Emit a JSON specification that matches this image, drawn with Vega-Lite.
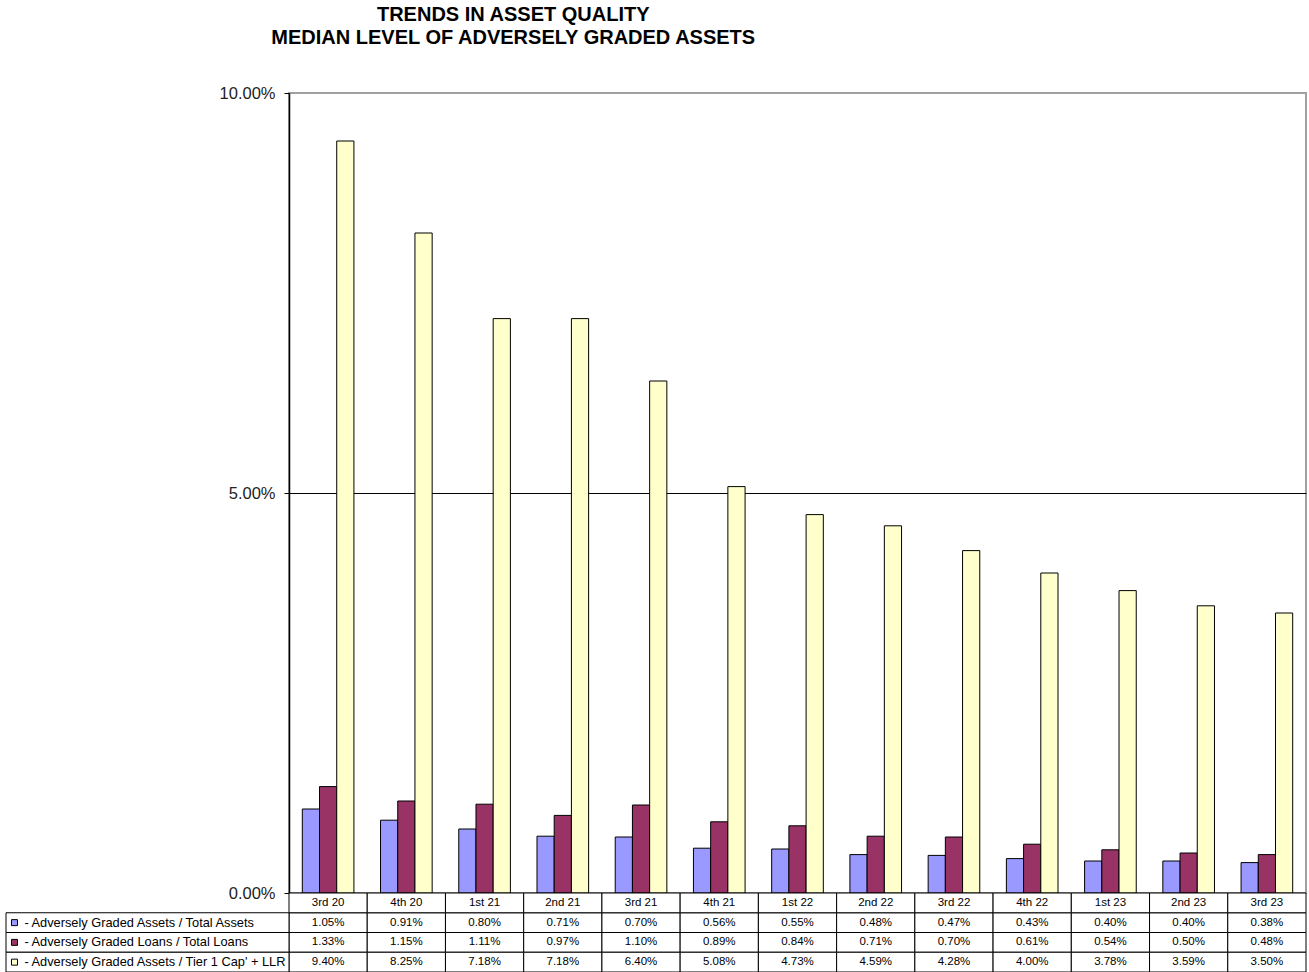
{
  "$schema": "https://vega.github.io/schema/vega-lite/v6.json",
  "padding": {"left": 5, "right": 3, "top": 5, "bottom": 0},
  "bounds": "flush",
  "spacing": 0,
  "config": {"font": "Liberation Sans", "view": {"stroke": null}},
  "title": {
    "text": ["TRENDS IN ASSET QUALITY", "MEDIAN LEVEL OF ADVERSELY GRADED ASSETS"],
    "fontSize": 20, "fontWeight": "bold", "color": "black", "anchor": "middle",
    "lineHeight": 23, "offset": 36, "dx": -143
  },
  "datasets": {
    "d": [
      {"quarter": "3rd 20", "series": "Adversely Graded Assets / Total Assets", "value": 0.0105},
      {"quarter": "3rd 20", "series": "Adversely Graded Loans / Total Loans", "value": 0.0133},
      {"quarter": "3rd 20", "series": "Adversely Graded Assets / Tier 1 Cap' + LLR", "value": 0.0940},
      {"quarter": "4th 20", "series": "Adversely Graded Assets / Total Assets", "value": 0.0091},
      {"quarter": "4th 20", "series": "Adversely Graded Loans / Total Loans", "value": 0.0115},
      {"quarter": "4th 20", "series": "Adversely Graded Assets / Tier 1 Cap' + LLR", "value": 0.0825},
      {"quarter": "1st 21", "series": "Adversely Graded Assets / Total Assets", "value": 0.0080},
      {"quarter": "1st 21", "series": "Adversely Graded Loans / Total Loans", "value": 0.0111},
      {"quarter": "1st 21", "series": "Adversely Graded Assets / Tier 1 Cap' + LLR", "value": 0.0718},
      {"quarter": "2nd 21", "series": "Adversely Graded Assets / Total Assets", "value": 0.0071},
      {"quarter": "2nd 21", "series": "Adversely Graded Loans / Total Loans", "value": 0.0097},
      {"quarter": "2nd 21", "series": "Adversely Graded Assets / Tier 1 Cap' + LLR", "value": 0.0718},
      {"quarter": "3rd 21", "series": "Adversely Graded Assets / Total Assets", "value": 0.0070},
      {"quarter": "3rd 21", "series": "Adversely Graded Loans / Total Loans", "value": 0.0110},
      {"quarter": "3rd 21", "series": "Adversely Graded Assets / Tier 1 Cap' + LLR", "value": 0.0640},
      {"quarter": "4th 21", "series": "Adversely Graded Assets / Total Assets", "value": 0.0056},
      {"quarter": "4th 21", "series": "Adversely Graded Loans / Total Loans", "value": 0.0089},
      {"quarter": "4th 21", "series": "Adversely Graded Assets / Tier 1 Cap' + LLR", "value": 0.0508},
      {"quarter": "1st 22", "series": "Adversely Graded Assets / Total Assets", "value": 0.0055},
      {"quarter": "1st 22", "series": "Adversely Graded Loans / Total Loans", "value": 0.0084},
      {"quarter": "1st 22", "series": "Adversely Graded Assets / Tier 1 Cap' + LLR", "value": 0.0473},
      {"quarter": "2nd 22", "series": "Adversely Graded Assets / Total Assets", "value": 0.0048},
      {"quarter": "2nd 22", "series": "Adversely Graded Loans / Total Loans", "value": 0.0071},
      {"quarter": "2nd 22", "series": "Adversely Graded Assets / Tier 1 Cap' + LLR", "value": 0.0459},
      {"quarter": "3rd 22", "series": "Adversely Graded Assets / Total Assets", "value": 0.0047},
      {"quarter": "3rd 22", "series": "Adversely Graded Loans / Total Loans", "value": 0.0070},
      {"quarter": "3rd 22", "series": "Adversely Graded Assets / Tier 1 Cap' + LLR", "value": 0.0428},
      {"quarter": "4th 22", "series": "Adversely Graded Assets / Total Assets", "value": 0.0043},
      {"quarter": "4th 22", "series": "Adversely Graded Loans / Total Loans", "value": 0.0061},
      {"quarter": "4th 22", "series": "Adversely Graded Assets / Tier 1 Cap' + LLR", "value": 0.0400},
      {"quarter": "1st 23", "series": "Adversely Graded Assets / Total Assets", "value": 0.0040},
      {"quarter": "1st 23", "series": "Adversely Graded Loans / Total Loans", "value": 0.0054},
      {"quarter": "1st 23", "series": "Adversely Graded Assets / Tier 1 Cap' + LLR", "value": 0.0378},
      {"quarter": "2nd 23", "series": "Adversely Graded Assets / Total Assets", "value": 0.0040},
      {"quarter": "2nd 23", "series": "Adversely Graded Loans / Total Loans", "value": 0.0050},
      {"quarter": "2nd 23", "series": "Adversely Graded Assets / Tier 1 Cap' + LLR", "value": 0.0359},
      {"quarter": "3rd 23", "series": "Adversely Graded Assets / Total Assets", "value": 0.0038},
      {"quarter": "3rd 23", "series": "Adversely Graded Loans / Total Loans", "value": 0.0048},
      {"quarter": "3rd 23", "series": "Adversely Graded Assets / Tier 1 Cap' + LLR", "value": 0.0350}
    ]
  },
  "vconcat": [
    {
      "width": 1017,
      "height": 800,
      "view": {"stroke": "#a0a0a0", "strokeWidth": 2},
      "data": {"name": "d"},
      "mark": {"type": "bar", "stroke": "black", "strokeWidth": 1},
      "encoding": {
        "x": {"field": "quarter", "type": "nominal", "sort": null, "axis": null,
              "scale": {"paddingInner": 0.34, "paddingOuter": 0.17}},
        "xOffset": {"field": "series", "type": "nominal", "sort": null},
        "y": {"field": "value", "type": "quantitative",
              "scale": {"domain": [0, 0.1], "nice": false},
              "axis": {"values": [0, 0.05, 0.1], "format": ".2%", "title": null,
                       "labelFontSize": 16.5, "labelColor": "#222", "labelPadding": 9,
                       "domainColor": "black", "domainWidth": 1.5, "tickColor": "black", "tickSize": 5,
                       "grid": true, "gridColor": "black", "gridWidth": 1.2,
                       "gridOpacity": {"condition": {"test": "datum.value == 0.05", "value": 1}, "value": 0}}},
        "color": {"field": "series", "type": "nominal", "sort": null, "legend": null,
                  "scale": {"domain": ["Adversely Graded Assets / Total Assets", "Adversely Graded Loans / Total Loans", "Adversely Graded Assets / Tier 1 Cap' + LLR"],
                            "range": ["#9999FF", "#993366", "#FFFFCC"]}}
      }
    },
    {
      "width": 1017,
      "height": 79,
      "data": {"name": "d"},
      "transform": [{"calculate": "'- ' + datum.series", "as": "label"}],
      "resolve": {"scale": {"x": "independent"}},
      "layer": [
        {
          "layer": [
            {
              "mark": {"type": "rect", "fill": "white", "stroke": "black", "strokeWidth": 1},
              "encoding": {
                "x": {"field": "quarter", "type": "nominal", "sort": null, "axis": null, "scale": {"padding": 0}},
                "y": {"field": "series", "type": "nominal", "axis": null,
                      "scale": {"domain": ["hdr", "Adversely Graded Assets / Total Assets", "Adversely Graded Loans / Total Loans", "Adversely Graded Assets / Tier 1 Cap' + LLR"], "padding": 0}}
              }
            },
            {
              "transform": [{"filter": "datum.series == 'Adversely Graded Assets / Total Assets'"}],
              "mark": {"type": "rect", "fill": "white", "stroke": "black", "strokeWidth": 1},
              "encoding": {
                "x": {"field": "quarter", "type": "nominal", "sort": null, "axis": null},
                "y": {"datum": "hdr", "type": "nominal", "axis": null}
              }
            },
            {
              "mark": {"type": "text", "fontSize": 11.5, "color": "black", "baseline": "middle"},
              "encoding": {
                "x": {"field": "quarter", "type": "nominal", "sort": null, "axis": null},
                "y": {"field": "series", "type": "nominal", "axis": null},
                "text": {"field": "value", "type": "quantitative", "format": ".2%"}
              }
            },
            {
              "transform": [{"filter": "datum.series == 'Adversely Graded Assets / Total Assets'"}],
              "mark": {"type": "text", "fontSize": 11.5, "color": "black", "baseline": "middle"},
              "encoding": {
                "x": {"field": "quarter", "type": "nominal", "sort": null, "axis": null},
                "y": {"datum": "hdr", "type": "nominal", "axis": null},
                "text": {"field": "quarter"}
              }
            }
          ]
        },
        {
          "transform": [{"filter": "datum.quarter == '3rd 20'"}],
          "layer": [
            {
              "mark": {"type": "rect", "fill": "white", "stroke": "black", "strokeWidth": 1},
              "encoding": {
                "x": {"datum": "lab", "type": "nominal", "axis": null, "scale": {"range": [-283, 0], "padding": 0}},
                "y": {"field": "series", "type": "nominal", "axis": null}
              }
            },
            {
              "mark": {"type": "point", "shape": "square", "filled": true, "stroke": "black", "strokeWidth": 1, "size": 36, "opacity": 1},
              "encoding": {
                "x": {"datum": "lab", "type": "nominal", "bandPosition": 0.03, "axis": null},
                "y": {"field": "series", "type": "nominal", "axis": null},
                "fill": {"field": "series", "type": "nominal", "legend": null,
                         "scale": {"domain": ["Adversely Graded Assets / Total Assets", "Adversely Graded Loans / Total Loans", "Adversely Graded Assets / Tier 1 Cap' + LLR"],
                                   "range": ["#9999FF", "#993366", "#FFFFCC"]}}
              }
            },
            {
              "mark": {"type": "text", "fontSize": 12.8, "color": "black", "align": "left", "baseline": "middle"},
              "encoding": {
                "x": {"datum": "lab", "type": "nominal", "bandPosition": 0.065, "axis": null},
                "y": {"field": "series", "type": "nominal", "axis": null},
                "text": {"field": "label"}
              }
            }
          ]
        }
      ]
    }
  ]
}
